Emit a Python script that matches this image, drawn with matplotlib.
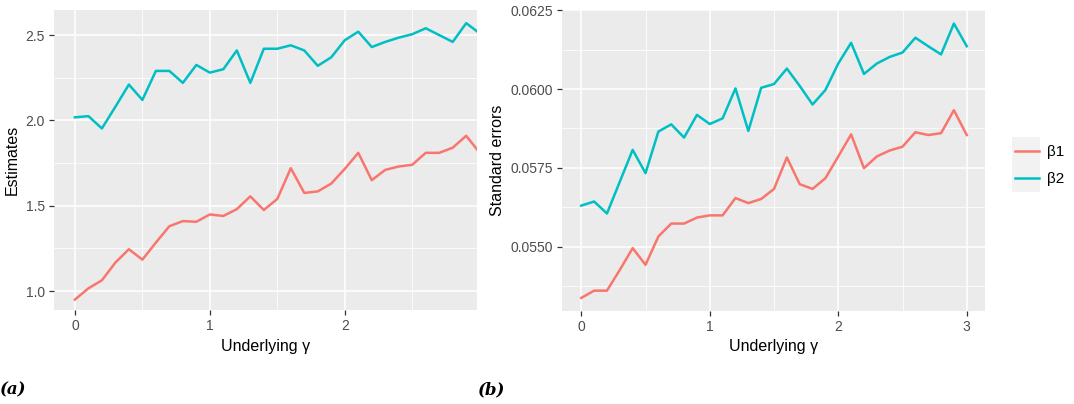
import numpy as np
import matplotlib
matplotlib.use('Agg')
import matplotlib.pyplot as plt
from matplotlib.patches import Rectangle
from matplotlib.ticker import MultipleLocator, FormatStrFormatter

plt.rcParams['font.family'] = ['Liberation Sans', 'DejaVu Sans']

# underlying gamma grid
gamma = [round(0.1 * i, 1) for i in range(31)]

# panel (a): estimates
est_b1 = [0.95, 1.016, 1.063, 1.167, 1.245, 1.184, 1.284, 1.38, 1.41, 1.406,
          1.449, 1.44, 1.48, 1.555, 1.475, 1.54, 1.72, 1.575, 1.584, 1.63,
          1.716, 1.81, 1.65, 1.71, 1.73, 1.74, 1.81, 1.81, 1.84, 1.91, 1.81]
est_b2 = [2.018, 2.025, 1.953, 2.08, 2.21, 2.12, 2.29, 2.29, 2.22, 2.325,
          2.28, 2.30, 2.41, 2.22, 2.42, 2.42, 2.44, 2.41, 2.32, 2.37,
          2.47, 2.52, 2.43, 2.46, 2.485, 2.505, 2.54, 2.50, 2.46, 2.57, 2.51]

# panel (b): standard errors
se_b1 = [0.05337, 0.05360, 0.05360, 0.05426, 0.05495, 0.05442, 0.05532, 0.05573,
         0.05573, 0.05592, 0.05599, 0.05599, 0.05654, 0.05638, 0.05651, 0.05683,
         0.05783, 0.05698, 0.05683, 0.05717, 0.05786, 0.05856, 0.05749, 0.05786,
         0.05805, 0.05817, 0.05863, 0.05854, 0.05860, 0.05933, 0.05854]
se_b2 = [0.05630, 0.05643, 0.05605, 0.05706, 0.05807, 0.05733, 0.05865, 0.05888,
         0.05846, 0.05918, 0.05889, 0.05907, 0.06002, 0.05867, 0.06004, 0.06016,
         0.06065, 0.06010, 0.05951, 0.05997, 0.06081, 0.06147, 0.06048, 0.06081,
         0.06102, 0.06116, 0.06163, 0.06136, 0.06110, 0.06208, 0.06136]

series_labels = ['β1', 'β2']
colors = ['#F8766D', '#00BFC4']


def gg_style(ax, ymajor, yfmt):
    ax.set_facecolor('#EBEBEB')
    for s in ax.spines.values():
        s.set_visible(False)
    ax.xaxis.set_major_locator(MultipleLocator(1))
    ax.xaxis.set_minor_locator(MultipleLocator(0.5))
    ax.yaxis.set_major_locator(MultipleLocator(ymajor))
    ax.yaxis.set_minor_locator(MultipleLocator(ymajor / 2))
    ax.yaxis.set_major_formatter(FormatStrFormatter(yfmt))
    ax.grid(which='major', color='white', linewidth=1.1)
    ax.grid(which='minor', color='white', linewidth=0.55)
    ax.set_axisbelow(True)
    ax.tick_params(which='major', length=3.5, width=0.9, color='#333333',
                   labelcolor='#4D4D4D', labelsize=10, pad=3)
    ax.tick_params(which='minor', length=0)
    ax.set_xlabel('Underlying γ', fontsize=11.5, labelpad=4)


fig = plt.figure(figsize=(10.74, 4.04), dpi=100)

ax1 = fig.add_axes([54 / 1074, 1 - 310 / 404, 423 / 1074, 300 / 404])
lines = []
for vals, c, lab in zip([est_b1, est_b2], colors, series_labels):
    ln, = ax1.plot(gamma, vals, color=c, linewidth=1.8, label=lab)
    lines.append(ln)
gg_style(ax1, 0.5, '%.1f')
ax1.set_xlim(-0.155, 2.98)
ax1.set_ylim(0.889, 2.647)
ax1.set_ylabel('Estimates', fontsize=11.5, labelpad=4)

ax2 = fig.add_axes([562 / 1074, 1 - 310.5 / 404, 423 / 1074, 300.5 / 404])
for vals, c in zip([se_b1, se_b2], colors):
    ax2.plot(gamma, vals, color=c, linewidth=1.8)
gg_style(ax2, 0.0025, '%.4f')
ax2.set_xlim(-0.15, 3.142)
ax2.set_ylim(0.05297, 0.06251)
ax2.set_ylabel('Standard errors', fontsize=11.5, labelpad=4)

# legend with grey key background like ggplot
fig.patches.append(Rectangle((1012 / 1074, 1 - 192 / 404), 28 / 1074, 55 / 404,
                             transform=fig.transFigure, facecolor='#F2F2F2',
                             edgecolor='none', zorder=0))
fig.legend(handles=lines, loc='upper left', bbox_to_anchor=(1012 / 1074, 1 - 142 / 404),
           frameon=False, fontsize=11, handlelength=1.55, handletextpad=0.55,
           labelspacing=0.85, borderpad=0.2, borderaxespad=0)

fig.text(0 / 1074, 1 - 390 / 404, '(a)', family='DejaVu Serif', style='italic',
         weight='bold', fontsize=12, va='center')
fig.text(478 / 1074, 1 - 390 / 404, '(b)', family='DejaVu Serif', style='italic',
         weight='bold', fontsize=12, va='center')

fig.savefig('out.png', dpi=100)
